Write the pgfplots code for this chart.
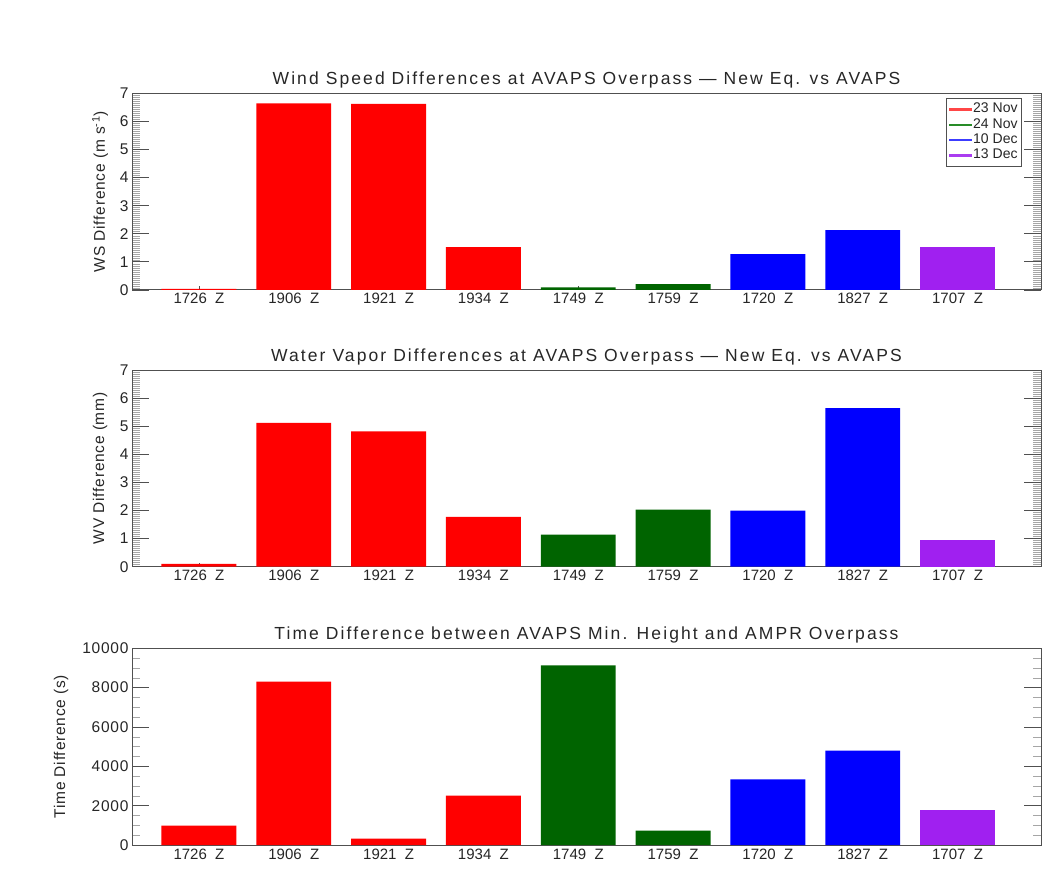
\documentclass[border=0pt]{standalone}
\usepackage{fontspec}
\setmainfont{Liberation Sans}
\newfontfamily\titlefont[LetterSpace=12]{Liberation Sans}
\newfontfamily\ylabfont[LetterSpace=5]{Liberation Sans}
\usepackage{pgfplots}
\pgfplotsset{compat=1.18}
\definecolor{cR}{RGB}{255,0,0}
\definecolor{cG}{RGB}{0,100,0}
\definecolor{cB}{RGB}{0,0,255}
\definecolor{cP}{RGB}{160,32,240}
\definecolor{lR}{RGB}{255,70,70}
\definecolor{lG}{RGB}{40,140,40}
\definecolor{lB}{RGB}{60,60,255}
\definecolor{lP}{RGB}{170,60,240}
\definecolor{axgray}{RGB}{80,80,80}
\pgfplotsset{
  idl/.style={
    scale only axis, width=909bp, height=196.7bp, anchor=north west,
    xmin=-0.706, xmax=8.88, ymin=0,
    xtick={0,...,8},
    xticklabels={1726~~Z,1906~~Z,1921~~Z,1934~~Z,1749~~Z,1759~~Z,1720~~Z,1827~~Z,1707~~Z},
    xtick pos=bottom,
    axis line style={axgray, line width=1bp},
    every tick/.style={axgray, line width=0.8bp},
    major tick length=17bp, minor tick length=8bp,
    minor tick style={gray!70, line width=0.6bp},
    xtick style={/pgfplots/major tick length=4bp},
    tick label style={font=\fontsize{15bp}{18bp}\selectfont, text=black!85},
    yticklabel style={font=\ylabfont\fontsize{15.5bp}{18bp}\selectfont},
    /pgf/number format/assume math mode=true,
    /pgf/number format/1000 sep={},
    scaled y ticks=false,
    title style={font=\titlefont\fontsize{17.5bp}{20bp}\selectfont, text=black!85, at={(axis description cs:0.5,1)}, anchor=base, yshift=2.5bp},
    ylabel style={font=\ylabfont\fontsize{15.5bp}{18bp}\selectfont, text=black!85, at={(axis description cs:-0.035,0.5)}, anchor=center},
  },
  bars/.style={ybar, bar width=0.79, bar shift=0pt, draw=none, fill=#1, forget plot},
}
\begin{document}
\begin{tikzpicture}
\path[use as bounding box] (0,0) rectangle (1043bp,-886bp);
% ---------- Wind speed
\begin{axis}[idl, at={(132bp,-93.3bp)}, ymax=7, ytick={0,...,7}, minor y tick num=13,
  title={Wind Speed Differences at AVAPS Overpass — New Eq. vs AVAPS},
  ylabel={WS Difference (m s\textsuperscript{-1})},
  legend style={at={(axis description cs:0.8955,0.976)}, anchor=north west,
    draw=axgray, line width=0.8bp, inner xsep=3bp, inner ysep=4bp,
    font=\fontsize{14bp}{15bp}\selectfont, text=black!85,
    nodes={inner sep=1bp, text height=9.5bp, text depth=2.5bp}, row sep=1.3bp},
  legend cell align=left]
\addplot[bars=cR] coordinates {(0,0.04) (1,6.64) (2,6.62) (3,1.53)};
\addplot[bars=cG] coordinates {(4,0.09) (5,0.21)};
\addplot[bars=cB] coordinates {(6,1.28) (7,2.13)};
\addplot[bars=cP] coordinates {(8,1.53)};
\addlegendimage{legend image code/.code={\fill[lR] (0bp,-0.8bp) rectangle (22bp,0.8bp);}}
\addlegendentry{23 Nov}
\addlegendimage{legend image code/.code={\fill[lG] (0bp,-0.8bp) rectangle (22bp,0.8bp);}}
\addlegendentry{24 Nov}
\addlegendimage{legend image code/.code={\fill[lB] (0bp,-0.8bp) rectangle (22bp,0.8bp);}}
\addlegendentry{10 Dec}
\addlegendimage{legend image code/.code={\fill[lP] (0bp,-0.8bp) rectangle (22bp,0.8bp);}}
\addlegendentry{13 Dec}
\end{axis}
% ---------- Water vapor
\begin{axis}[idl, at={(132bp,-370bp)}, ymax=7, ytick={0,...,7}, minor y tick num=13,
  title={Water Vapor Differences at AVAPS Overpass — New Eq. vs AVAPS},
  ylabel={WV Difference (mm)}]
\addplot[bars=cR] coordinates {(0,0.10) (1,5.12) (2,4.82) (3,1.77)};
\addplot[bars=cG] coordinates {(4,1.14) (5,2.03)};
\addplot[bars=cB] coordinates {(6,2.00) (7,5.64)};
\addplot[bars=cP] coordinates {(8,0.96)};
\end{axis}
% ---------- Time difference
\begin{axis}[idl, at={(132bp,-648.3bp)}, ymax=10000, ytick={0,2000,...,10000}, minor y tick num=3,
  title={Time Difference between AVAPS Min. Height and AMPR Overpass},
  ylabel={Time Difference (s)},
  ylabel style={at={(axis description cs:-0.078,0.5)}}]
\addplot[bars=cR] coordinates {(0,981) (1,8300) (2,320) (3,2508)};
\addplot[bars=cG] coordinates {(4,9135) (5,729)};
\addplot[bars=cB] coordinates {(6,3339) (7,4796)};
\addplot[bars=cP] coordinates {(8,1797)};
\end{axis}
\end{tikzpicture}
\end{document}
